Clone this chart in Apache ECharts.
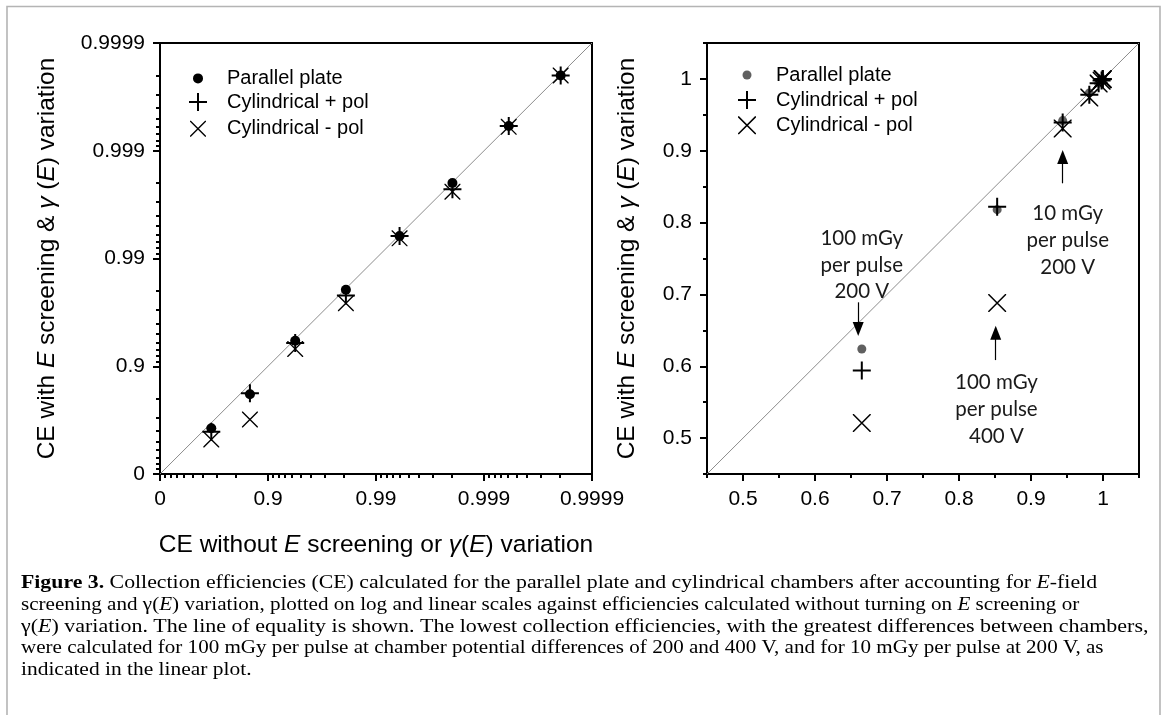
<!DOCTYPE html>
<html>
<head>
<meta charset="utf-8">
<title>Figure 3</title>
<script src="https://cdn.jsdelivr.net/npm/echarts@6.0.0/dist/echarts.min.js"></script>
<style>
html, body { margin: 0; padding: 0; background: #fff; }
#container { width: 1167px; height: 715px; }
</style>
</head>
<body>
<div id="container"></div>
<script>
// CE values, same points on both panels
var ceWithout = [0.665, 0.853, 0.944, 0.981, 0.99395, 0.99804, 0.99941, 0.999805];
var parallelPlate = [0.624, 0.818, 0.942, 0.9805, 0.99382, 0.998005, 0.99941, 0.9998];
var cylPlus = [0.594, 0.822, 0.9392, 0.978, 0.99382, 0.99772, 0.99941, 0.9998];
var cylMinus = [0.521, 0.688, 0.931, 0.974, 0.9935, 0.9976, 0.9994, 0.9998];

var seriesNames = ['Parallel plate', 'Cylindrical + pol', 'Cylindrical - pol'];
var logTickLabels = ['0', '0.9', '0.99', '0.999', '0.9999'];
var linTicks = [0.5, 0.6, 0.7, 0.8, 0.9, 1];
var linMinorTicks = [0.45, 0.55, 0.65, 0.75, 0.85, 0.95, 1.05];
var notes = ['100 mGy\nper pulse\n200 V', '100 mGy\nper pulse\n400 V', '10 mGy\nper pulse\n200 V'];

var captionLines = [
	'{b|Figure 3.} Collection efficiencies (CE) calculated for the parallel plate and cylindrical chambers after accounting for {i|E}-field',
	'screening and γ({i|E}) variation, plotted on log and linear scales against efficiencies calculated without turning on {i|E} screening or',
	'γ({i|E}) variation. The line of equality is shown. The lowest collection efficiencies, with the greatest differences between chambers,',
	'were calculated for 100 mGy per pulse at chamber potential differences of 200 and 400 V, and for 10 mGy per pulse at 200 V, as',
	'indicated in the linear plot.'
];
// the original caption face is wider than Liberation Serif: stretch each line
var captionStretch = [1.118, 1.082, 1.127, 1.08, 1.1];

var FONT = '"Liberation Sans", Arial, sans-serif';
var SERIF = '"Liberation Serif", serif';
var plusPath = 'path://M8,0h2v8h8v2h-8v8h-2v-8h-8v-2h8z';
var crossPath = 'path://M0,0L6,0L100,94L100,100L94,100L0,6Z M100,0L100,6L6,100L0,100L0,94L94,0Z';

// left panel: position = -log10(1 - CE), so 0.9, 0.99 ... are one unit apart
function lg(ce) {
	return -Math.log10(1 - ce);
}

var logMajorTicks = [0, 1, 2, 3, 4];
var logMinorTicks = [];
for (var k = 0; k < 4; k++) {
	for (var m = 2; m <= 9; m++) {
		logMinorTicks.push(k + 1 - Math.log10(m));
	}
}

function pairs(xs, ys, f) {
	var out = [];
	for (var i = 0; i < xs.length; i++) {
		out.push([f(xs[i]), f(ys[i])]);
	}
	return out;
}
function same(v) { return v; }

var axisName = 'CE with {i|E} screening & {i|γ} ({i|E}) variation';
var nameStyle = {
	fontFamily: FONT,
	fontSize: 24.5,
	color: '#000',
	rich: {
		i: { fontFamily: FONT, fontSize: 24.5, fontStyle: 'italic', color: '#000' }
	}
};

function majorAxis(dim, grid, min, max, ticks, formatter, name, gap) {
	return {
		type: 'value',
		gridIndex: grid,
		min: min,
		max: max,
		position: dim === 'x' ? 'bottom' : 'left',
		axisLine: { show: true, onZero: false, lineStyle: { color: '#000', width: 2 } },
		axisTick: { show: true, inside: false, length: 7, customValues: ticks, lineStyle: { color: '#000', width: 2 } },
		axisLabel: {
			show: true, margin: 15, color: '#000', fontFamily: FONT, fontSize: 21,
			customValues: ticks, showMinLabel: true, showMaxLabel: true, hideOverlap: false,
			formatter: formatter
		},
		splitLine: { show: false },
		name: name,
		nameLocation: 'middle',
		nameGap: gap,
		nameRotate: dim === 'x' ? 0 : 90,
		nameTextStyle: nameStyle
	};
}

function minorAxis(dim, grid, min, max, ticks) {
	return {
		type: 'value',
		gridIndex: grid,
		min: min,
		max: max,
		position: dim === 'x' ? 'bottom' : 'left',
		axisLine: { show: false, onZero: false },
		axisTick: { show: true, inside: false, length: 4, customValues: ticks, lineStyle: { color: '#000', width: 2 } },
		axisLabel: { show: false },
		splitLine: { show: false }
	};
}

function logLabel(v) {
	return logTickLabels[Math.round(v)];
}
function linLabel(v) {
	return String(v);
}

function makeLegend(name, left, top, size, pad, color) {
	var item = { name: name };
	if (color) {
		item.itemStyle = { color: color };
	}
	return {
		data: [item],
		orient: 'vertical',
		left: left,
		top: top,
		padding: 0,
		itemWidth: size,
		itemHeight: size,
		selectedMode: false,
		textStyle: { fontFamily: FONT, fontSize: 20, color: '#000', padding: [0, 0, 0, pad] }
	};
}

function scatter(name, xi, yi, data, symbol, size, color, z) {
	return {
		name: name,
		type: 'scatter',
		xAxisIndex: xi,
		yAxisIndex: yi,
		data: data,
		symbol: symbol,
		symbolSize: size,
		itemStyle: { color: color, opacity: 1 },
		silent: true,
		z: z
	};
}

var dom = document.getElementById('container');
var myChart = echarts.init(dom, null, { renderer: 'canvas' });

var noteStyle = { show: true, position: 'inside', fontFamily: 'Lato, "Open Sans", sans-serif', fontSize: 20.5, lineHeight: 26.7, color: '#1a1a1a' };

var graphics = [
	{
		type: 'polyline',
		shape: { points: [[7, 715], [7, 6.5], [1160, 6.5], [1160, 715]] },
		style: { stroke: '#b4b4b4', lineWidth: 1.6, fill: null },
		silent: true
	}
];
for (var c = 0; c < captionLines.length; c++) {
	graphics.push({
		type: 'text',
		x: 21,
		y: 583 + c * 21.7,
		scaleX: captionStretch[c],
		silent: true,
		style: {
			text: captionLines[c],
			fontFamily: SERIF,
			fontSize: 19.5,
			fill: '#000',
			verticalAlign: 'middle',
			rich: {
				b: { fontFamily: SERIF, fontSize: 19.5, fontWeight: 'bold' },
				i: { fontFamily: SERIF, fontSize: 19.5, fontStyle: 'italic' }
			}
		}
	});
}

myChart.setOption({
	animation: false,
	backgroundColor: '#fff',
	grid: [
		{ left: 160, top: 43, width: 432, height: 431, show: true, borderColor: '#000', borderWidth: 2, backgroundColor: 'transparent', outerBoundsMode: 'none' },
		{ left: 707, top: 43, width: 432, height: 431, show: true, borderColor: '#000', borderWidth: 2, backgroundColor: 'transparent', outerBoundsMode: 'none' }
	],
	xAxis: [
		majorAxis('x', 0, 0, 4, logMajorTicks, logLabel, 'CE without {i|E} screening or {i|γ}({i|E}) variation', 59),
		minorAxis('x', 0, 0, 4, logMinorTicks),
		majorAxis('x', 1, 0.45, 1.05, linTicks, linLabel, '', 0),
		minorAxis('x', 1, 0.45, 1.05, linMinorTicks)
	],
	yAxis: [
		majorAxis('y', 0, 0, 4, logMajorTicks, logLabel, axisName, 100),
		minorAxis('y', 0, 0, 4, logMinorTicks),
		majorAxis('y', 1, 0.45, 1.05, linTicks, linLabel, axisName, 67),
		minorAxis('y', 1, 0.45, 1.05, linMinorTicks)
	],
	legend: [
		makeLegend(seriesNames[0], 193, 68.4, 10, 19),
		makeLegend(seriesNames[1], 189, 92, 18, 15),
		makeLegend(seriesNames[2], 190, 118.7, 16, 16),
		makeLegend(seriesNames[0], 742.5, 65, 9, 19.5, '#606060'),
		makeLegend(seriesNames[1], 738, 90, 18, 15),
		makeLegend(seriesNames[2], 738, 115.3, 18, 15)
	],
	series: [
		{
			type: 'line', xAxisIndex: 0, yAxisIndex: 0, data: [[0, 0], [4, 4]],
			symbol: 'none', silent: true, z: 1,
			lineStyle: { color: '#8c8c8c', width: 1 }
		},
		scatter(seriesNames[0], 0, 0, pairs(ceWithout, parallelPlate, lg), 'circle', 10, '#000', 2),
		scatter(seriesNames[1], 0, 0, pairs(ceWithout, cylPlus, lg), plusPath, 18, '#000', 3),
		scatter(seriesNames[2], 0, 0, pairs(ceWithout, cylMinus, lg), crossPath, 16, '#000', 3),
		{
			type: 'line', xAxisIndex: 2, yAxisIndex: 2, data: [[0.45, 0.45], [1.05, 1.05]],
			symbol: 'none', silent: true, z: 1,
			lineStyle: { color: '#8c8c8c', width: 1 },
			markLine: {
				silent: true,
				symbol: ['none', 'triangle'],
				lineStyle: { color: '#000', width: 1.2, type: 'solid' },
				label: { show: false },
				emphasis: { disabled: true },
				data: [
					[{ coord: [0.66, 0.689] }, { coord: [0.66, 0.652], symbolSize: [11, 14] }],
					[{ coord: [0.851, 0.6086] }, { coord: [0.851, 0.6467], symbolSize: [11, 14] }],
					[{ coord: [0.944, 0.8547] }, { coord: [0.944, 0.8914], symbolSize: [11, 14] }]
				]
			},
			markPoint: {
				silent: true,
				symbol: 'circle',
				symbolSize: 1,
				itemStyle: { color: 'rgba(0,0,0,0)' },
				label: noteStyle,
				data: [
					{ coord: [0.665, 0.741], label: { formatter: notes[0] } },
					{ coord: [0.852, 0.540], label: { formatter: notes[1] } },
					{ coord: [0.951, 0.775], label: { formatter: notes[2] } }
				]
			}
		},
		scatter(seriesNames[0], 2, 2, pairs(ceWithout, parallelPlate, same), 'circle', 9, '#606060', 2),
		scatter(seriesNames[1], 2, 2, pairs(ceWithout, cylPlus, same), plusPath, 18, '#000', 3),
		scatter(seriesNames[2], 2, 2, pairs(ceWithout, cylMinus, same), crossPath, 18, '#000', 3)
	],
	graphic: graphics
});
</script>
</body>
</html>
